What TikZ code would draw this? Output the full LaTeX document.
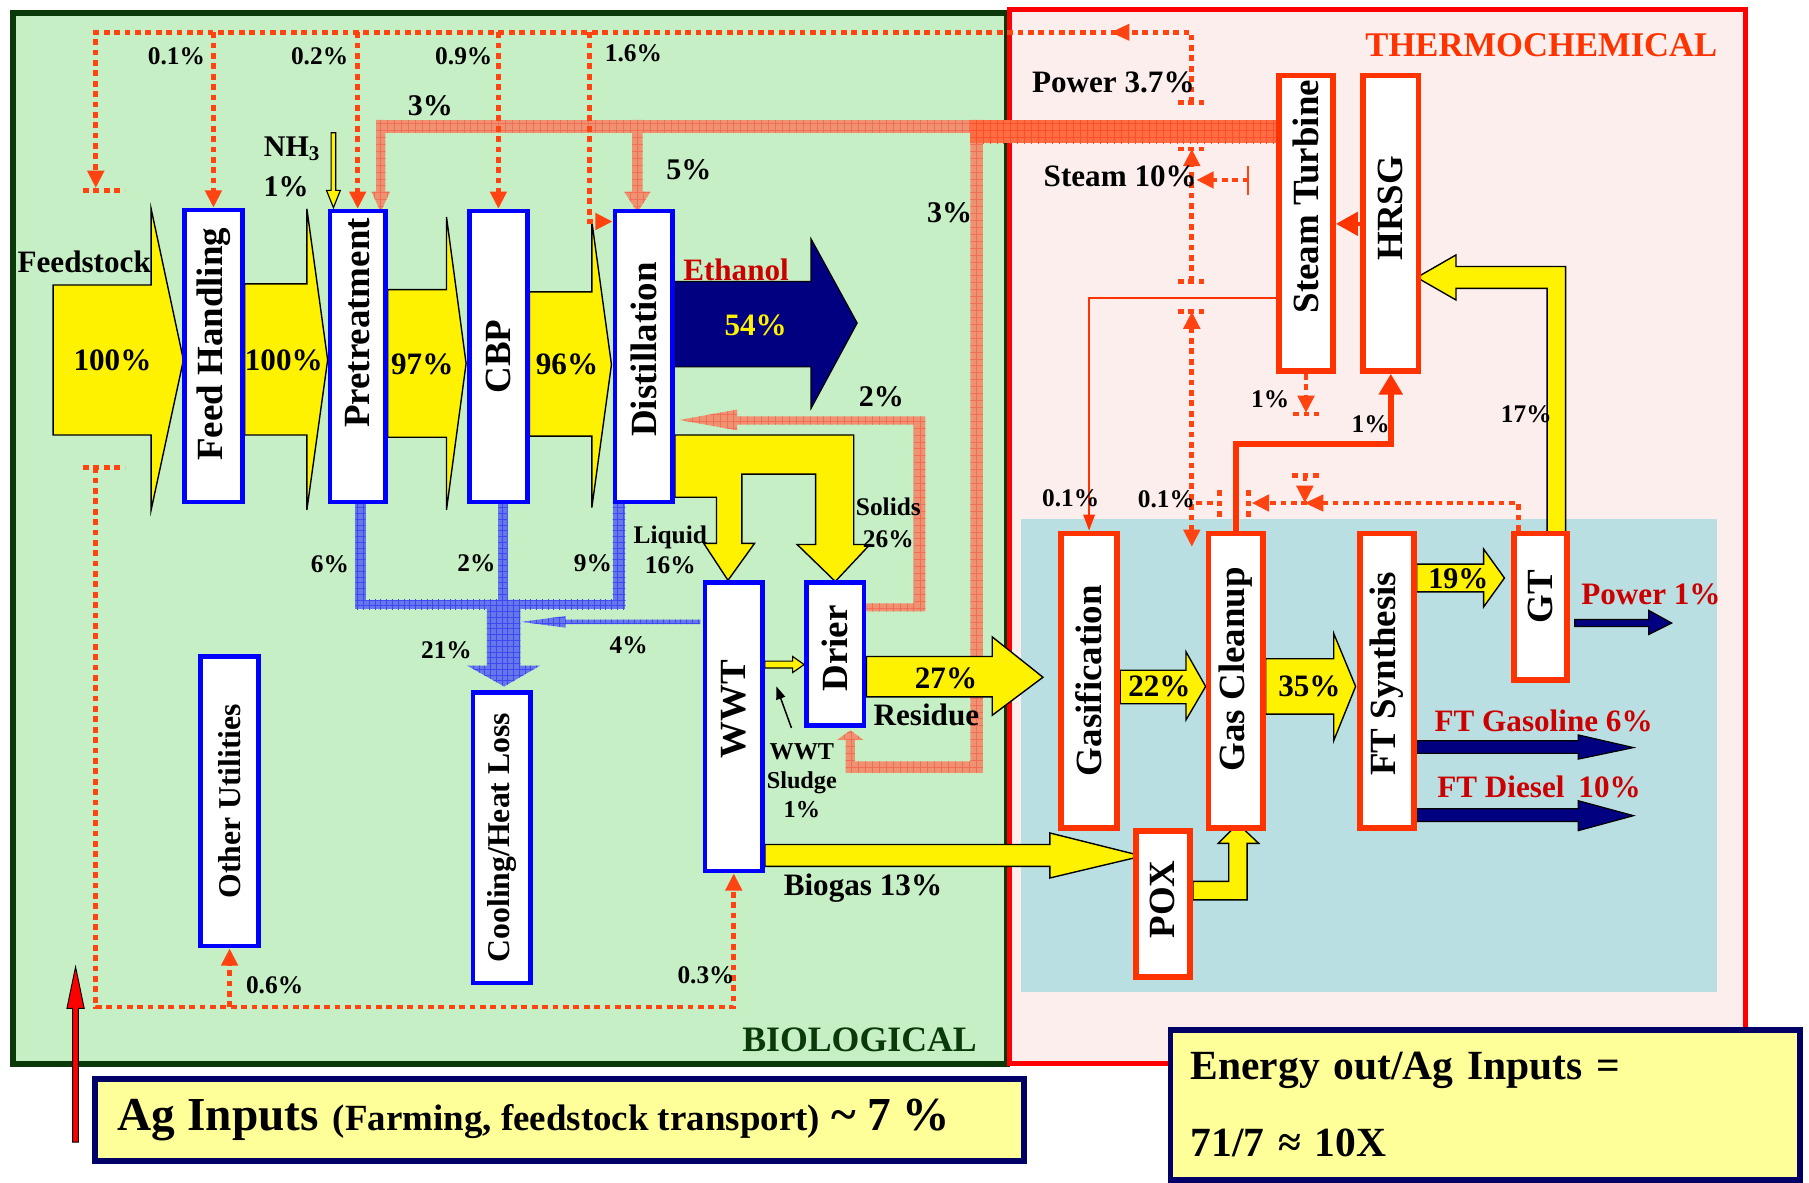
\documentclass[tikz,border=0pt]{standalone}
\usepackage{fontspec}
\setmainfont{Liberation Serif}
\usetikzlibrary{arrows.meta,patterns.meta}

\definecolor{biogreen}{HTML}{C6EFC6}
\definecolor{biodark}{HTML}{0A3A0A}
\definecolor{thermopink}{HTML}{FDEEEE}
\definecolor{thermored}{HTML}{FF0000}
\definecolor{fteal}{HTML}{B9DFE2}
\definecolor{flame}{HTML}{FF3300}
\definecolor{dotred}{HTML}{FF4411}
\definecolor{salmon}{HTML}{EE9272}
\definecolor{steamor}{HTML}{FF6E42}
\definecolor{coolblue}{HTML}{6677EA}
\definecolor{darkred}{HTML}{CC0000}
\definecolor{navyb}{HTML}{000080}
\definecolor{paleyel}{HTML}{FFFF99}
\definecolor{boxnavy}{HTML}{000066}

\newcommand\fs[1]{\fontsize{#1}{#1}\selectfont\bfseries}
\newcommand\vtext[2][0pt]{\rotatebox{90}{\hspace*{#1}#2}}

\tikzset{
  biobox/.style={draw=blue, line width=4pt, fill=white, inner sep=0pt,
    minimum width=50pt, minimum height=252pt, font=\fs{32}},
  thermobox/.style={draw=flame, line width=5pt, fill=white, inner sep=0pt,
    minimum width=47pt, minimum height=255pt, font=\fs{32}},
  yflow/.style={fill=yellow, draw=black, line width=1.2pt},
  navyflow/.style={fill=navyb, draw=black, line width=1pt},
  steamband/.style={fill=salmon, postaction={pattern color=salmon!75!red,
    pattern={Hatch[angle=0,distance=6pt,line width=0.5pt]}}},
  hotband/.style={fill=steamor, postaction={pattern color=steamor!70!red,
    pattern={Hatch[angle=0,distance=6pt,line width=0.5pt]}}},
  coolband/.style={fill=coolblue, postaction={pattern color=coolblue!60!blue,
    pattern={Hatch[angle=0,distance=5pt,line width=0.5pt]}}},
  dotflow/.style={draw=dotred, line width=4pt, dash pattern=on 5pt off 4pt},
  dtip/.style={-{Triangle[length=15pt,width=14pt]}},
  lbl/.style={inner sep=0pt, font=\fs{22}},
  midlbl/.style={inner sep=0pt, font=\fs{26}},
  biglbl/.style={inner sep=0pt, font=\fs{27}},
  redlbl/.style={inner sep=0pt, font=\fs{27}, text=darkred}
}

\begin{document}
\begin{tikzpicture}[x=1pt, y=-1pt]
  \useasboundingbox[fill=white] (0,0) rectangle (1568,1025);
  % areas
  \draw[biodark, line width=5pt, fill=biogreen] (11.5,11) rectangle (873,922);
  \draw[thermored, line width=4pt, fill=thermopink] (875,8) rectangle (1513,922);
  \fill[fteal] (885,450) rectangle (1488,860);
  \node[inner sep=0pt, font=\fs{30}, text=flame] (thermo) at (1336,39) {THERMOCHEMICAL};
  \node[inner sep=0pt, font=\fs{31}, text=biodark] (bio) at (745,901) {BIOLOGICAL};

  % steam bands
  \fill[steamband] (326,104) rectangle (848,115);
  \fill[steamband] (326,104) -- (334,104) -- (334,166) -- (338,166) -- (330,184)
    -- (322,166) -- (326,166) -- cycle;
  \fill[steamband] (548,104) -- (557,104) -- (557,166) -- (564,166) -- (552.5,184)
    -- (541,166) -- (548,166) -- cycle;
  \fill[steamband] (841,104) -- (852,104) -- (852,670) -- (733,670) -- (733,641)
    -- (726,641) -- (737,633) -- (748,641) -- (741,641) -- (741,660) -- (841,660) -- cycle;
  \fill[steamband] (749,523) -- (792,523) -- (792,368) -- (639,368) -- (639,373)
    -- (589,364) -- (639,355) -- (639,361) -- (802,361) -- (802,530) -- (749,530) -- cycle;
  \fill[hotband] (841,104) rectangle (1108,124);

  % cooling bands
  \fill[coolband] (308,435) rectangle (317,528);
  \fill[coolband] (432,435) rectangle (440,520);
  \fill[coolband] (531,435) rectangle (542,528);
  \fill[coolband] (308,520) rectangle (542,528);
  \fill[coolband] (422,520) -- (451,520) -- (451,577) -- (468,577) -- (437,595)
    -- (405,577) -- (422,577) -- cycle;
  \fill[coolband] (607,537) -- (490,537) -- (490,534) -- (452,539) -- (490,544)
    -- (490,541) -- (607,541) -- cycle;

  % main flows
  \draw[yflow] (46,247) -- (131,247) -- (131,181) -- (159,312) -- (131,442) -- (131,377) -- (46,377) -- cycle;
  \draw[yflow] (212,246) -- (266,246) -- (266,181) -- (284,312) -- (266,442) -- (266,377) -- (212,377) -- cycle;
  \draw[yflow] (336,251) -- (387,251) -- (387,188) -- (404,315) -- (387,442) -- (387,379) -- (336,379) -- cycle;
  \draw[yflow] (459,253) -- (513,253) -- (513,192) -- (530,316) -- (513,440) -- (513,378) -- (459,378) -- cycle;
  \draw[navyflow] (585,244) -- (703,244) -- (703,207) -- (743,280) -- (703,354) -- (703,318) -- (585,318) -- cycle;
  \draw[yflow] (585,377) -- (740,377) -- (740,472) -- (754,472) -- (724,504) -- (691,472) -- (707,472)
    -- (707,411) -- (643,411) -- (643,471) -- (654,471) -- (631,503) -- (610,471) -- (621,471)
    -- (621,431) -- (585,431) -- cycle;
  \draw[yflow] (751,569) -- (860,569) -- (860,552) -- (904,587) -- (860,620) -- (860,604) -- (751,604) -- cycle;
  \draw[yflow] (663,732) -- (910,732) -- (910,722) -- (990,742) -- (910,761) -- (910,751) -- (663,751) -- cycle;
  \draw[yflow, line width=1pt] (663,573) -- (687,573) -- (687,569) -- (697,576) -- (687,583) -- (687,579) -- (663,579) -- cycle;
  \draw[yflow, line width=1pt] (287,115) -- (291,115) -- (291,165) -- (295,165) -- (289,180) -- (283,165) -- (287,165) -- cycle;
  \draw[yflow] (971,581) -- (1028,581) -- (1028,565) -- (1045,595) -- (1028,624) -- (1028,610) -- (971,610) -- cycle;
  \draw[yflow] (1097,571) -- (1156,571) -- (1156,549) -- (1175,595) -- (1156,642) -- (1156,619) -- (1097,619) -- cycle;
  \draw[yflow] (1228,489) -- (1286,489) -- (1286,476) -- (1304,501) -- (1286,526) -- (1286,513) -- (1228,513) -- cycle;
  \draw[yflow] (1034,764) -- (1065,764) -- (1065,731) -- (1056,731) -- (1073,714) -- (1091,731) -- (1081,731)
    -- (1081,780) -- (1034,780) -- cycle;
  \draw[yflow] (1357,463) -- (1357,231) -- (1262,231) -- (1262,221) -- (1228,240.5) -- (1262,260) -- (1262,250)
    -- (1341,250) -- (1341,463) -- cycle;
  \draw[navyflow] (1365,537) -- (1429,537) -- (1429,529) -- (1449,540) -- (1429,550) -- (1429,543) -- (1365,543) -- cycle;
  \draw[navyflow] (1228,642) -- (1368,642) -- (1368,637) -- (1416,648) -- (1368,658) -- (1368,653) -- (1228,653) -- cycle;
  \draw[navyflow] (1228,701) -- (1368,701) -- (1368,694) -- (1416,707) -- (1368,720) -- (1368,712) -- (1228,712) -- cycle;

  % units
  \node[biobox, minimum height=253pt] (fh) at (185,308.5) {\vtext[20pt]{Feed Handling}};
  \node[biobox, minimum width=48pt] (pt) at (310,309) {\vtext[58pt]{Pretreatment}};
  \node[biobox] (cbp) at (432,309) {\vtext{CBP}};
  \node[biobox] (dist) at (558,309) {\vtext[12pt]{Distillation}};
  \node[biobox, minimum height=251pt, font=\fs{27.5}] (ou) at (199,694.5) {\vtext{Other Utilities}};
  \node[biobox, font=\fs{27.5}] (cool) at (435,726) {\vtext{Cooling/Heat Loss}};
  \node[biobox, minimum height=250pt] (wwt) at (636,630) {\vtext[30pt]{WWT}};
  \node[biobox, minimum height=124pt] (drier) at (724,567) {\vtext[10pt]{Drier}};
  \node[thermobox, minimum width=49pt] (gas) at (944,590) {\vtext{Gasification}};
  \node[thermobox] (gcu) at (1071,590) {\vtext[20pt]{Gas Cleanup}};
  \node[thermobox] (fts) at (1202,590) {\vtext[12pt]{FT Synthesis}};
  \node[thermobox, minimum width=46pt, minimum height=127pt] (gt) at (1335.5,526) {\vtext[18pt]{GT}};
  \node[thermobox, minimum height=126pt] (pox) at (1008,783.5) {\vtext[8pt]{POX}};
  \node[thermobox, minimum height=256pt] (st) at (1132,193.5) {\vtext[46pt]{Steam Turbine}};
  \node[thermobox, minimum width=48pt, minimum height=256pt] (hrsg) at (1205.5,193.5) {\vtext[26pt]{HRSG}};

  % utility lines
  \coordinate (topline) at (83,28);
  \coordinate (botline) at (83,873);
  \draw[dotflow, dtip] (1033,89) -- (1033,28) -- (topline) -- (83,163);
  \fill[dotred] (963,28) -- (979,20.5) -- (979,35.5) -- cycle;
  \draw[dotflow] (72,165) -- (108,165);
  \draw[dotflow] (1021,89) -- (1045,89);
  \draw[dotflow, dtip] (fh.north |- topline) -- (fh.north);
  \draw[dotflow, dtip] (pt.north |- topline) -- (pt.north);
  \draw[dotflow, dtip] (cbp.north |- topline) -- (cbp.north);
  \draw[dotflow, dtip] (511,28) |- (dist.west |- 0,192);
  \draw[dotflow] (72,405) -- (108,405);
  \draw[dotflow, dtip] (83,405) -- (botline) -| (wwt.south);
  \draw[dotflow, dtip] (ou.south |- botline) -- (ou.south);
  \draw[dotflow] (1021,129) -- (1045,129);
  \draw[dotflow] (1021,244) -- (1045,244);
  \draw[dotflow] (1021,270) -- (1045,270);
  \draw[dotflow, dtip] (1033,244) -- (1033,129);
  \draw[dotflow, {Triangle[length=15pt,width=14pt]}-{Triangle[length=15pt,width=14pt]}] (1033,270) -- (1033,474);
  \draw[dotred, line width=1.5pt] (1082,144) -- (1082,169);
  \draw[dotflow, dtip] (1082,156) -- (1037,156);
  \draw[dotflow, dtip] (st.south) -- ++(0,34);
  \draw[dotflow] (1121,359) -- (1143,359);
  \draw[dotflow] (1037,436) -- (1057,436);
  \draw[dotflow] (1057,425) -- (1057,448);
  \draw[dotflow] (1082,425) -- (1082,448);
  \draw[dotflow, dtip] (gt.north -| 1316,0) -- (1316,436) -- (1085,436);
  \fill[dotred] (1131,436) -- (1147,428.5) -- (1147,443.5) -- cycle;
  \draw[dotflow] (1120,412) -- (1144,412);
  \draw[dotflow, dtip] (1131,412) -- (1131,436);

  % steam and power links
  \draw[flame, line width=1.5pt, -{Triangle[length=14pt,width=10pt]}] (st.west |- 0,258) -| (gas.north);
  \draw[flame, line width=5pt, -{Triangle[length=18pt,width=20pt]}] (gcu.north) -- (gcu.north |- 0,385) -| (hrsg.south);
  \draw[flame, line width=4pt, -{Triangle[length=19pt,width=20pt]}] (hrsg.west |- 0,194) -- (st.east |- 0,194);
  \coordinate (sludgetail) at (686,631);
  \draw[line width=1.3pt, -{Triangle[length=11pt,width=8pt]}] (sludgetail) -- (673,595);

  % labels
  \node[biglbl] (feedlbl) at (73,227) {Feedstock};
  \node[biglbl] (pc100a) at (97.5,312) {100\%};
  \node[biglbl] (pc100b) at (246,312) {100\%};
  \node[biglbl] (pc97) at (366,316) {97\%};
  \node[biglbl] (pc96) at (491.5,316) {96\%};
  \node[lbl] (pfh) at (153,49) {0.1\%};
  \node[lbl] (ppt) at (277,49) {0.2\%};
  \node[lbl] (pcbp) at (402,49) {0.9\%};
  \node[lbl] (pdist) at (549,46) {1.6\%};
  \node[midlbl] (nh3) at (253,129) {NH\textsubscript{3}};
  \node[midlbl] (nh3pc) at (248,162) {1\%};
  \node[midlbl] (stpt) at (373,92) {3\%};
  \node[midlbl] (stdist) at (597,147) {5\%};
  \node[midlbl] (stdrier) at (823,184) {3\%};
  \node[redlbl] (ethlbl) at (638,234) {Ethanol};
  \node[biglbl, text=yellow] (eth54) at (655,282) {54\%};
  \node[midlbl] (stback) at (764,344) {2\%};
  \node[lbl, align=center, font=\fontsize{22}{26}\selectfont\bfseries] (liquid) at (581,477) {Liquid\\16\%};
  \node[lbl, align=center, font=\fontsize{22}{28}\selectfont\bfseries] (solids) at (770,453) {Solids\\26\%};
  \node[lbl] (cpt) at (286,489) {6\%};
  \node[lbl] (ccbp) at (413,488) {2\%};
  \node[lbl] (cdist) at (514,488) {9\%};
  \node[lbl] (ctot) at (387,564) {21\%};
  \node[lbl] (cwwt) at (545,559) {4\%};
  \node[biglbl] (res27) at (820,588) {27\%};
  \node[biglbl] (reslbl) at (803,620) {Residue};
  \node[align=center, inner sep=0pt, font=\fontsize{21}{25}\selectfont\bfseries] (sludge) at (695,677) {WWT\\Sludge\\1\%};
  \node[biglbl] (biogas) at (748,770) {Biogas 13\%};
  \node[lbl] (pou) at (238,854) {0.6\%};
  \node[lbl] (pwwt) at (612,845) {0.3\%};
  \node[biglbl] (pow37) at (965,71) {Power 3.7\%};
  \node[biglbl] (steam10) at (971,153) {Steam 10\%};
  \node[lbl] (pst1) at (1101,346) {1\%};
  \node[lbl] (phr1) at (1188,368) {1\%};
  \node[lbl] (p17) at (1323,359) {17\%};
  \node[lbl] (pgas) at (928,432) {0.1\%};
  \node[lbl] (pgcu) at (1011,433) {0.1\%};
  \node[biglbl] (p22) at (1005,595) {22\%};
  \node[biglbl] (p35) at (1135,595) {35\%};
  \node[midlbl] (p19) at (1264,502) {19\%};
  \node[redlbl] (pow1) at (1431,515) {Power 1\%};
  \node[redlbl] (ftgas) at (1338,625) {FT Gasoline 6\%};
  \node[redlbl] (ftdie) at (1334,682) {FT Diesel\hspace{0.45em}10\%};

  % summary boxes
  \node[draw=boxnavy, line width=5pt, fill=paleyel, minimum width=805pt, minimum height=71pt,
    inner sep=0pt] (agbox) at (485,971)
    {\makebox[766pt][l]{\fs{41}Ag Inputs\hspace{0.3em}\fs{32}(Farming, feedstock transport)\hspace{0.3em}\fs{41}\textasciitilde\hspace{0.25em}7\hspace{0.25em}\%}};
  \node[draw=boxnavy, line width=5pt, fill=paleyel, minimum width=546pt, minimum height=130pt,
    inner xsep=17.5pt, text width=511pt, align=left, font=\fontsize{36}{67}\selectfont\bfseries]
    (ratio) at (1287.5,957.5) {Energy out/Ag Inputs =\\71/7 ≈ 10X};
  \draw[fill=red, draw=black, line width=0.8pt] (63,990) -- (63,874) -- (58,874) -- (65.5,838)
    -- (73,874) -- (68,874) -- (68,990) -- cycle;
\end{tikzpicture}
\end{document}
